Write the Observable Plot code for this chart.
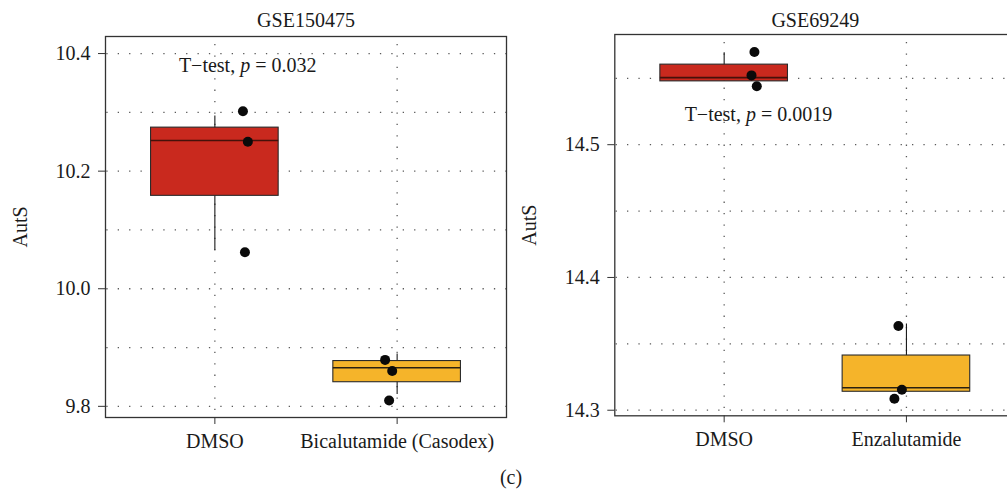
<!DOCTYPE html>
<html>
<head>
<meta charset="utf-8">
<script src="https://cdn.jsdelivr.net/npm/d3@7"></script>
<script src="https://cdn.jsdelivr.net/npm/@observablehq/plot@0.6"></script>
<style>
  html, body { margin: 0; padding: 0; background: #fff; }
  body { width: 1007px; height: 489px; overflow: hidden; position: relative;
         font-family: "Liberation Serif", "DejaVu Serif", serif; color: #1a1a1a; }
  .panel { position: absolute; top: 0; width: 510px; height: 489px; }
  .caption { position: absolute; left: 481px; top: 467px; width: 60px; text-align: center;
             font-size: 20px; line-height: 20px; }
</style>
</head>
<body>
<div id="left" class="panel" style="left:0px"></div>
<div id="right" class="panel" style="left:510px"></div>
<div class="caption">(c)</div>
<script>
// ---- GSE150475 ----
const groupsA = ["DMSO", "Bicalutamide (Casodex)"];
const fillsA = ["#C9291E", "#F5B42A"];
const medianColorsA = ["#45110a", "#2a2010"];
// box statistics per group: min, q1, median, q3, max
const minA    = [10.065, 9.820];
const q1A     = [10.158, 9.841];
const medianA = [10.252, 9.8655];
const q3A     = [10.274, 9.877];
const maxA    = [10.294, 9.889];
// samples (value and horizontal jitter in group units)
const dmsoA   = [10.302, 10.250, 10.062];
const dmsoJitA = [0.154, 0.181, 0.165];
const bicaA   = [9.879, 9.860, 9.810];
const bicaJitA = [-0.066, -0.027, -0.044];
const domainA = [9.781, 10.429];
const majorA = [9.8, 10.0, 10.2, 10.4];
const gridA = [9.8, 9.9, 10.0, 10.1, 10.2, 10.3, 10.4];
const testA = "T−test, p = 0.032";
const testPosA = [1.18, 10.379];

// ---- GSE69249 ----
const groupsB = ["DMSO", "Enzalutamide"];
const fillsB = ["#C9291E", "#F5B42A"];
const medianColorsB = ["#45110a", "#2a2010"];
const minB    = [14.5477, 14.3139];
const q1B     = [14.5477, 14.3139];
const medianB = [14.5505, 14.3169];
const q3B     = [14.5603, 14.3412];
const maxB    = [14.5693, 14.3649];
const dmsoB   = [14.5698, 14.5522, 14.5440];
const dmsoJitB = [0.166, 0.150, 0.179];
const enzaB   = [14.3634, 14.3154, 14.3086];
const enzaJitB = [-0.044, -0.025, -0.066];
const domainB = [14.2958, 14.583];
const majorB = [14.3, 14.4, 14.5];
const gridB = [14.30, 14.35, 14.40, 14.45, 14.50, 14.55];
const testB = "T−test, p = 0.0019";
const testPosB = [1.188, 14.5228];

function boxTable(groups, fills, medCols, mn, q1, md, q3, mx) {
  return groups.map((g, k) => ({
    i: k + 1, group: g, fill: fills[k], medColor: medCols[k],
    min: mn[k], q1: q1[k], median: md[k], q3: q3[k], max: mx[k]
  }));
}

function pointTable(sets) {
  const out = [];
  sets.forEach(([values, jit], k) => {
    values.forEach((v, j) => out.push({ x: k + 1 + jit[j], value: v }));
  });
  return out;
}

const dotted = { stroke: "#5a5a5a", strokeWidth: 1.3, strokeDasharray: "1.3,10.1" };

function panel(cfg) {
  const boxes = boxTable(...cfg.box);
  const points = pointTable(cfg.points);
  const svg = Plot.plot({
    width: 510,
    height: 489,
    marginLeft: cfg.marginLeft,
    marginRight: 510 - cfg.marginLeft - 401,
    marginTop: cfg.marginTop,
    marginBottom: cfg.marginBottom,
    style: { fontFamily: "Liberation Serif, DejaVu Serif, serif", fontSize: "20px", color: "#1a1a1a",
             background: "transparent", maxWidth: "none", width: "510px", height: "489px" },
    x: { domain: [0.4, 2.6] },
    y: { domain: cfg.domain },
    color: { type: "identity" },
    marks: [
      Plot.ruleY(cfg.grid, { ...dotted, strokeDashoffset: -1.3 }),
      Plot.ruleX([1, 2], { ...dotted, strokeDashoffset: -8 }),
      Plot.ruleX(boxes, { x: "i", y1: "min", y2: "max", stroke: "#1a1a1a", strokeWidth: 1.1 }),
      Plot.rect(boxes, { x1: d => d.i - 0.35, x2: d => d.i + 0.35, y1: "q1", y2: "q3",
                         fill: "fill", stroke: "#2a2a2a", strokeWidth: 1.1 }),
      Plot.ruleY(boxes, { x1: d => d.i - 0.35, x2: d => d.i + 0.35, y: "median",
                          stroke: "medColor", strokeWidth: 1.6 }),
      Plot.dot(points, { x: "x", y: "value", r: 5, fill: "#0a0a0a" }),
      Plot.frame({ stroke: "#333", strokeWidth: 1.3 }),
      Plot.axisY({ ticks: cfg.major, tickFormat: d3.format(".1f"), tickSize: 7, tickPadding: 8,
                   stroke: "#333", label: null }),
      Plot.axisX({ ticks: [1, 2], tickFormat: d => cfg.groups[d - 1], tickSize: 7, tickPadding: 9,
                   stroke: "#333", label: null }),
      Plot.text([cfg.title], { text: d => d, frameAnchor: "top", lineAnchor: "bottom", dy: cfg.titleDy }),
      Plot.text(["AutS"], { text: d => d, frameAnchor: "left", rotate: -90, lineAnchor: "bottom",
                            textAnchor: "middle", dx: -79 }),
      Plot.text([cfg.test], { text: d => d, x: () => cfg.testPos[0], y: () => cfg.testPos[1],
                              lineAnchor: "middle", textAnchor: "middle" })
    ]
  });
  // italic p in the test annotation
  svg.querySelectorAll("text").forEach(t => {
    if (t.textContent === cfg.test) {
      const [pre, post] = cfg.test.split("p = ");
      t.textContent = "";
      const ns = "http://www.w3.org/2000/svg";
      const a = document.createElementNS(ns, "tspan"); a.textContent = pre;
      const b = document.createElementNS(ns, "tspan"); b.textContent = "p";
      b.setAttribute("font-style", "italic");
      const c = document.createElementNS(ns, "tspan"); c.textContent = " = " + post;
      t.append(a, b, c);
    }
  });
  return svg;
}

document.getElementById("left").append(panel({
  title: "GSE150475", titleDy: -9.3, groups: groupsA,
  box: [groupsA, fillsA, medianColorsA, minA, q1A, medianA, q3A, maxA],
  points: [[dmsoA, dmsoJitA], [bicaA, bicaJitA]],
  domain: domainA, major: majorA, grid: gridA, test: testA, testPos: testPosA,
  marginLeft: 105, marginTop: 36, marginBottom: 489 - 417
}));

document.getElementById("right").append(panel({
  title: "GSE69249", titleDy: -7.3, groups: groupsB,
  box: [groupsB, fillsB, medianColorsB, minB, q1B, medianB, q3B, maxB],
  points: [[dmsoB, dmsoJitB], [enzaB, enzaJitB]],
  domain: domainB, major: majorB, grid: gridB, test: testB, testPos: testPosB,
  marginLeft: 104.3, marginTop: 34, marginBottom: 489 - 415.3
}));
</script>
</body>
</html>
